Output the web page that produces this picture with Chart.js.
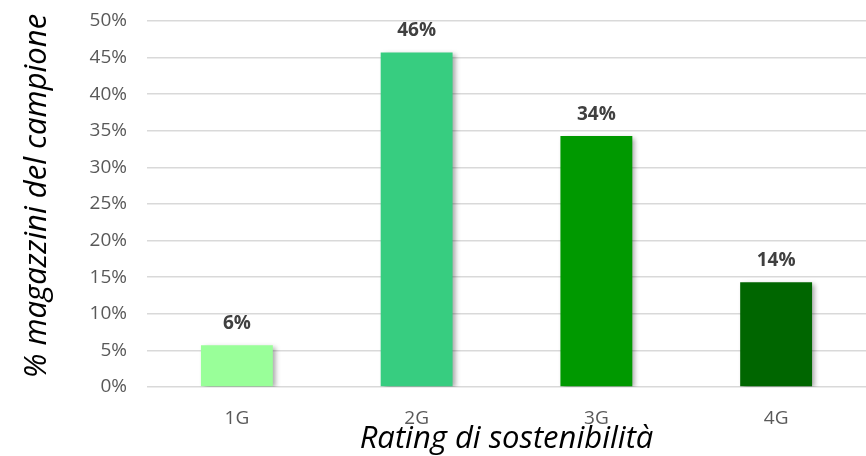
<!DOCTYPE html>
<html>
<head>
<meta charset="utf-8">
<script src="https://cdn.jsdelivr.net/npm/chart.js@4/dist/chart.umd.min.js"></script>
<style>
  html, body { margin: 0; padding: 0; background: #ffffff; }
  #wrap { width: 866px; height: 456px; position: relative; }
</style>
</head>
<body>
<div id="wrap"><canvas id="chart"></canvas></div>
<script>
// Share of sampled warehouses per sustainability rating
const categories = ['1G', '2G', '3G', '4G'];
const shares = [5.7, 45.7, 34.3, 14.3];
const barColors = ['#99FF99', '#37CD80', '#009900', '#006600'];
const yTicks = [0, 5, 10, 15, 20, 25, 30, 35, 40, 45, 50];
const yTitle = '% magazzini del campione';
const xTitle = 'Rating di sostenibilità';

const FONT = '"Open Sans", "Noto Sans", sans-serif';

// soft drop shadow behind the bars
const barShadow = {
  id: 'barShadow',
  beforeDatasetDraw(chart) {
    const ctx = chart.ctx;
    ctx.save();
    ctx.shadowColor = 'rgba(0,0,0,0.35)';
    ctx.shadowBlur = 5;
    ctx.shadowOffsetX = 3;
    ctx.shadowOffsetY = 2;
  },
  afterDatasetDraw(chart) {
    chart.ctx.restore();
  }
};

// value labels above each bar
const valueLabels = {
  id: 'valueLabels',
  afterDatasetsDraw(chart) {
    const ctx = chart.ctx;
    const meta = chart.getDatasetMeta(0);
    ctx.save();
    ctx.font = 'bold 19px ' + FONT;
    ctx.fillStyle = '#404040';
    ctx.textAlign = 'center';
    ctx.textBaseline = 'alphabetic';
    meta.data.forEach((bar, i) => {
      ctx.fillText(Math.round(shares[i]) + '%', bar.x, bar.y - 16);
    });
    ctx.restore();
  }
};

// vertical axis title, set slightly above the plot's middle
const verticalTitle = {
  id: 'verticalTitle',
  afterDraw(chart) {
    const ctx = chart.ctx;
    ctx.save();
    ctx.translate(37, 196);
    ctx.rotate(-Math.PI / 2);
    ctx.font = 'italic 31px ' + FONT;
    ctx.fillStyle = '#000000';
    ctx.textAlign = 'center';
    ctx.textBaseline = 'middle';
    ctx.fillText(yTitle, 0, 0);
    ctx.restore();
  }
};

new Chart(document.getElementById('chart'), {
  type: 'bar',
  data: {
    labels: categories,
    datasets: [{
      data: shares,
      backgroundColor: barColors,
      borderWidth: 0,
      categoryPercentage: 1,
      barPercentage: 0.4
    }]
  },
  options: {
    responsive: true,
    maintainAspectRatio: false,
    animation: false,
    layout: { padding: { top: 21, right: 0, bottom: 0, left: 0 } },
    plugins: {
      legend: { display: false },
      tooltip: { enabled: false }
    },
    scales: {
      x: {
        afterFit(axis) { axis.height = 69; },
        grid: { display: false, drawTicks: false },
        border: { display: false },
        ticks: { color: '#595959', font: { family: FONT, size: 19 }, padding: 20 },
        title: {
          display: true,
          text: xTitle,
          color: '#000000',
          font: { family: FONT, size: 31, style: 'italic' },
          padding: { top: 0, bottom: -2 }
        }
      },
      y: {
        min: 0,
        max: 50,
        afterFit(axis) { axis.width = 147; },
        afterBuildTicks(axis) { axis.ticks = yTicks.map(v => ({ value: v })); },
        grid: {
          color: '#d9d9d9',
          lineWidth: 1.5,
          drawTicks: true,
          tickLength: 20,
          tickColor: 'rgba(0,0,0,0)'
        },
        border: { display: false },
        ticks: {
          color: '#595959',
          font: { family: FONT, size: 19 },
          padding: 0,
          callback: v => v + '%'
        },
        title: { display: false }
      }
    }
  },
  plugins: [barShadow, valueLabels, verticalTitle]
});
</script>
</body>
</html>
